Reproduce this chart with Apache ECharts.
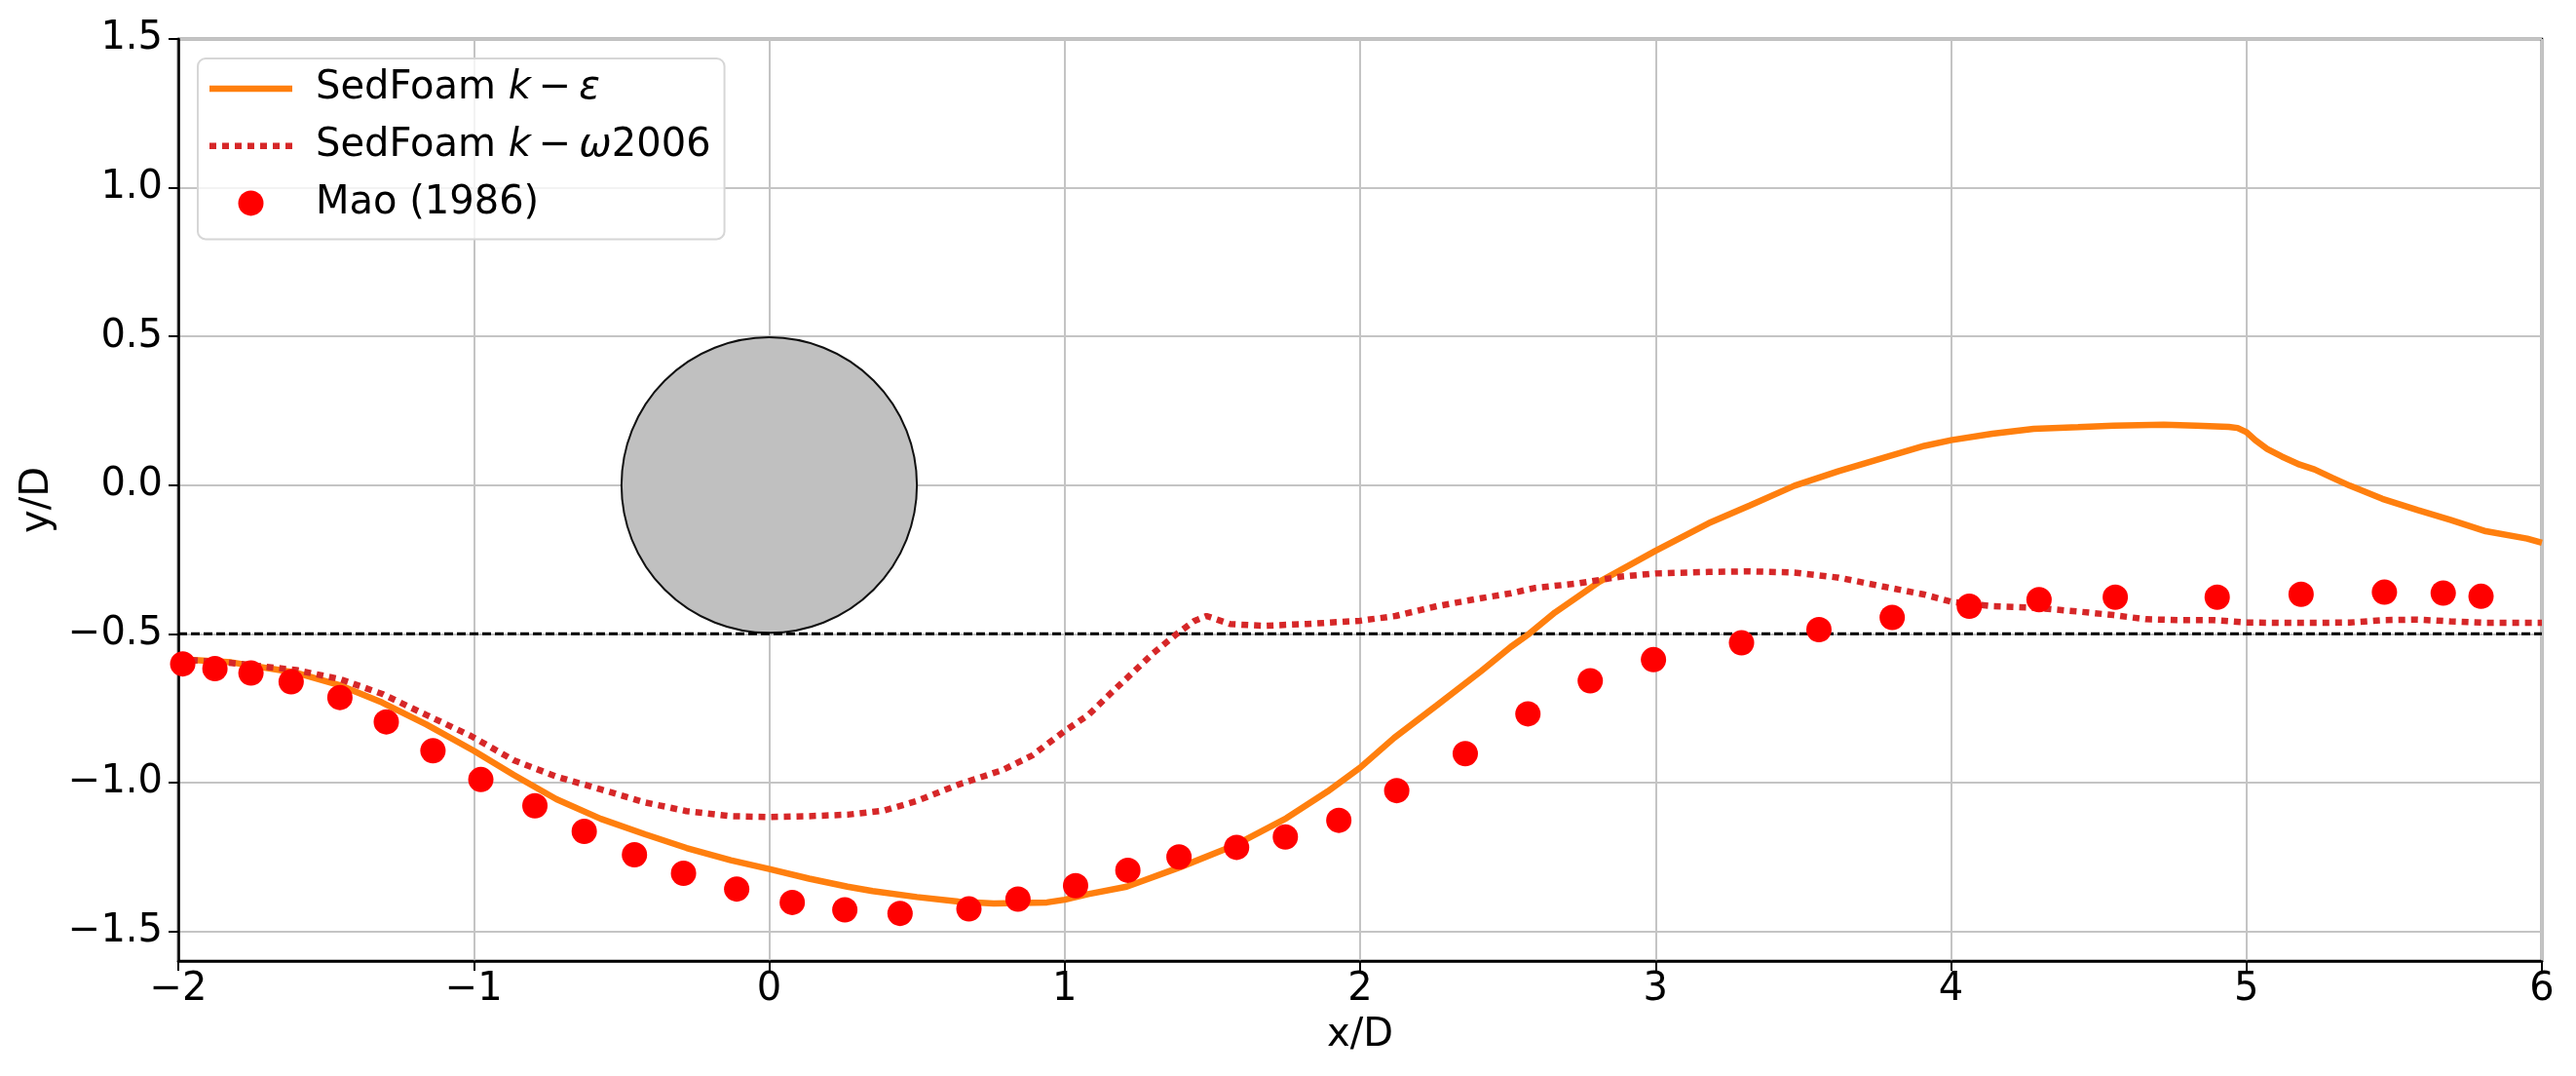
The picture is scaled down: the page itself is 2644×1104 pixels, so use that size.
<!DOCTYPE html>
<html>
<head>
<meta charset="utf-8">
<script src="https://cdn.jsdelivr.net/npm/echarts@6/dist/echarts.min.js"></script>
<style>
  html, body { margin: 0; padding: 0; background: #fff; }
  #chart { width: 2644px; height: 1104px; }
</style>
</head>
<body>
<div id="chart"></div>
<script>
// SedFoam k-epsilon profile
const keX = [-2.0, -1.82, -1.6, -1.45, -1.31, -1.16, -1.0, -0.865, -0.72, -0.57, -0.42, -0.28, -0.13, 0.0, 0.135, 0.265,
  0.35, 0.5, 0.64, 0.76, 0.94, 1.0, 1.08, 1.21, 1.39, 1.58, 1.75, 1.82, 1.89, 2.0, 2.115, 2.26, 2.41, 2.51,
  2.572, 2.66, 2.81, 3.0, 3.18, 3.32, 3.47, 3.62, 3.77, 3.91, 4.0, 4.14, 4.28, 4.43, 4.55, 4.72, 4.83, 4.94,
  4.97, 5.0, 5.03, 5.07, 5.12, 5.18, 5.23, 5.29, 5.35, 5.46, 5.58, 5.69, 5.81, 5.95, 6.0];
const keY = [-0.585, -0.596, -0.631, -0.674, -0.731, -0.805, -0.893, -0.974, -1.056, -1.122, -1.174, -1.22, -1.261, -1.291, -1.323, -1.35,
  -1.365, -1.385, -1.40, -1.407, -1.403, -1.394, -1.375, -1.35, -1.285, -1.209, -1.12, -1.075, -1.03, -0.95, -0.85, -0.74, -0.625, -0.544,
  -0.5, -0.428, -0.325, -0.221, -0.128, -0.068, -0.002, 0.047, 0.091, 0.132, 0.151, 0.173, 0.189, 0.195, 0.2, 0.203, 0.2, 0.196,
  0.192, 0.178, 0.151, 0.122, 0.096, 0.069, 0.053, 0.025, -0.002, -0.046, -0.084, -0.117, -0.155, -0.18, -0.194];

// SedFoam k-omega 2006 profile
const kwX = [-2.0, -1.82, -1.6, -1.45, -1.31, -1.16, -1.01, -0.865, -0.72, -0.57, -0.42, -0.28, -0.13, 0.0, 0.135, 0.265,
  0.39, 0.5, 0.64, 0.79, 0.89, 1.0, 1.08, 1.16, 1.23, 1.3, 1.38, 1.44, 1.48, 1.56, 1.67, 1.82, 2.0, 2.12, 2.26, 2.41, 2.51,
  2.59, 2.74, 2.88, 3.0, 3.18, 3.32, 3.47, 3.62, 3.77, 3.91, 4.0, 4.14, 4.28, 4.43, 4.55, 4.66, 4.78, 4.89,
  5.0, 5.12, 5.23, 5.35, 5.46, 5.58, 5.69, 5.81, 6.0];
const kwY = [-0.585, -0.598, -0.622, -0.653, -0.702, -0.773, -0.843, -0.925, -0.98, -1.023, -1.067, -1.096, -1.113, -1.116, -1.113, -1.108,
  -1.094, -1.062, -1.007, -0.958, -0.909, -0.827, -0.773, -0.696, -0.631, -0.565, -0.5, -0.456, -0.44, -0.467, -0.473, -0.467, -0.456, -0.44, -0.407, -0.38, -0.364,
  -0.346, -0.33, -0.308, -0.297, -0.292, -0.29, -0.294, -0.311, -0.341, -0.368, -0.392, -0.407, -0.412, -0.425, -0.437, -0.451, -0.454, -0.454,
  -0.462, -0.463, -0.463, -0.462, -0.454, -0.452, -0.458, -0.463, -0.463];

// Mao (1986) measurements
const maoX = [-1.985, -1.876, -1.754, -1.618, -1.453, -1.296, -1.138, -0.976, -0.793, -0.626, -0.456, -0.29, -0.11, 0.078,
  0.256, 0.443, 0.676, 0.842, 1.037, 1.214, 1.387, 1.582, 1.747, 1.928, 2.124, 2.356, 2.568, 2.779, 2.993,
  3.291, 3.553, 3.801, 4.062, 4.298, 4.556, 4.901, 5.185, 5.467, 5.666, 5.794];
const maoY = [-0.601, -0.617, -0.632, -0.661, -0.714, -0.796, -0.893, -0.99, -1.078, -1.164, -1.243, -1.305, -1.358, -1.403,
  -1.428, -1.44, -1.425, -1.392, -1.347, -1.295, -1.25, -1.218, -1.183, -1.127, -1.027, -0.903, -0.769, -0.658, -0.587,
  -0.53, -0.486, -0.445, -0.407, -0.385, -0.377, -0.377, -0.367, -0.36, -0.363, -0.374];

// pipe (cylinder) and initial bed level
const pipeX = [0];
const pipeY = [0];
const pipeR = [0.5];
const bedX = [-2, 6];
const bedY = [-0.5, -0.5];

const yTicks = [-1.5, -1.0, -0.5, 0.0, 0.5, 1.0, 1.5];

const zip = (a, b) => a.map((v, i) => [v, b[i]]);
const fmtNum = (v, d) => (v < 0 ? '\u2212' : '') + Math.abs(v).toFixed(d);

const FONT = 'DejaVu Sans';
const LW = 6.5;
const DOT = [7, 6];

// legend icons: a solid bar and a row of dots, same thickness as the lines
const solidIcon = 'path://M0,0H85V' + LW + 'H0Z';
let dottedIcon = 'path://';
for (let x = 0; x + DOT[0] <= 86; x += DOT[0] + DOT[1]) {
  dottedIcon += 'M' + x + ',0H' + (x + DOT[0]) + 'V' + LW + 'H' + x + 'Z';
}

const chart = echarts.init(document.getElementById('chart'));

const legendLabels = {
  ke: '{sp| }{n|SedFoam }{i|k}{n|\u2009\u2212\u2009}{i|\u03b5}',
  kw: '{sp| }{n|SedFoam }{i|k}{n|\u2009\u2212\u2009}{i|\u03c9}{n|2006}',
  mao: '{sp| }{n|Mao (1986)}'
};

const option = {
  animation: false,
  backgroundColor: '#fff',
  grid: {
    left: 183, right: 35, top: 40, bottom: 118,
    show: true, borderColor: '#000', borderWidth: 2.5, backgroundColor: 'transparent'
  },
  xAxis: {
    type: 'value', min: -2, max: 6, interval: 1,
    name: 'x/D', nameLocation: 'middle', nameGap: 57,
    nameTextStyle: { fontFamily: FONT, fontSize: 40, color: '#000' },
    axisLine: { show: true, onZero: false, lineStyle: { color: '#000', width: 2.5 } },
    axisTick: { show: true, length: 10, lineStyle: { color: '#000', width: 2 } },
    axisLabel: { fontFamily: FONT, fontSize: 40, color: '#000', margin: 10, formatter: v => fmtNum(v, 0) },
    splitLine: { show: true, lineStyle: { color: '#c4c4c4', width: 2 } }
  },
  yAxis: {
    type: 'value', min: -1.6, max: 1.5,
    name: 'y/D', nameLocation: 'middle', nameGap: 99,
    nameTextStyle: { fontFamily: FONT, fontSize: 40, color: '#000' },
    axisLine: { show: true, onZero: false, lineStyle: { color: '#000', width: 2.5 } },
    axisTick: { show: true, length: 10, customValues: yTicks, lineStyle: { color: '#000', width: 2 } },
    axisLabel: { fontFamily: FONT, fontSize: 40, color: '#000', margin: 16, customValues: yTicks, formatter: v => fmtNum(v, 1) },
    splitLine: { show: true, lineStyle: { color: '#c4c4c4', width: 2 } }
  },
  legend: {
    left: 203, top: 60, orient: 'vertical',
    padding: [11, 14, 17, 12],
    itemWidth: 85, itemHeight: 26, itemGap: 18.7,
    backgroundColor: 'rgba(255,255,255,0.8)',
    borderColor: '#d6d6d6', borderWidth: 2, borderRadius: 8,
    data: [
      { name: 'ke', icon: solidIcon, itemStyle: { borderWidth: 0 } },
      { name: 'kw', icon: dottedIcon, itemStyle: { borderWidth: 0 } },
      { name: 'mao', icon: 'circle', itemStyle: { borderWidth: 0 } }
    ],
    formatter: name => legendLabels[name],
    textStyle: {
      fontFamily: FONT, fontSize: 40, color: '#000', lineHeight: 40,
      rich: {
        sp: { width: 19, fontSize: 40, lineHeight: 40 },
        n: { fontFamily: FONT, fontSize: 40, color: '#000', lineHeight: 40 },
        i: { fontFamily: FONT, fontSize: 40, color: '#000', fontStyle: 'italic', lineHeight: 40 }
      }
    }
  },
  series: [
    {
      name: 'pipe', type: 'custom', silent: true, z: 3,
      data: pipeX.map((x, i) => [x, pipeY[i], pipeR[i]]),
      renderItem: (params, api) => {
        const c = api.coord([api.value(0), api.value(1)]);
        const r = api.size([api.value(2), 0])[0];
        return {
          type: 'circle',
          shape: { cx: c[0], cy: c[1], r: r },
          style: { fill: '#c0c0c0', stroke: '#111', lineWidth: 2 }
        };
      }
    },
    {
      name: 'bed', type: 'line', silent: true, symbol: 'none', z: 3,
      data: zip(bedX, bedY),
      lineStyle: { color: '#000', width: 3, type: [9, 4] }
    },
    {
      name: 'ke', type: 'line', symbol: 'none', z: 4,
      data: zip(keX, keY),
      itemStyle: { color: '#ff7f0e' },
      lineStyle: { color: '#ff7f0e', width: LW }
    },
    {
      name: 'kw', type: 'line', symbol: 'none', z: 5,
      data: zip(kwX, kwY),
      itemStyle: { color: '#d62728' },
      lineStyle: { color: '#d62728', width: LW, type: DOT, cap: 'butt' }
    },
    {
      name: 'mao', type: 'scatter', symbol: 'circle', symbolSize: 26, z: 6,
      data: zip(maoX, maoY),
      itemStyle: { color: '#ff0000', opacity: 1 }
    }
  ]
};

chart.setOption(option);
</script>
</body>
</html>
